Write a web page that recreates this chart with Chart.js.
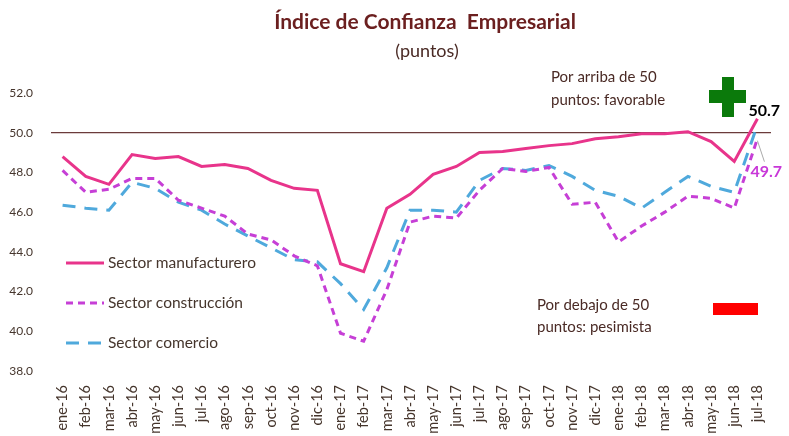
<!DOCTYPE html>
<html>
<head>
<meta charset="utf-8">
<script src="https://cdn.jsdelivr.net/npm/chart.js@4"></script>
<style>
  html, body { margin: 0; padding: 0; background: #fff; }
  canvas { display: block; }
</style>
</head>
<body>
<canvas id="icePlot" width="789" height="436"></canvas>
<script>
// meses
const meses = [
  "ene-16", "feb-16", "mar-16", "abr-16", "may-16", "jun-16", "jul-16", "ago-16",
  "sep-16", "oct-16", "nov-16", "dic-16", "ene-17", "feb-17", "mar-17", "abr-17",
  "may-17", "jun-17", "jul-17", "ago-17", "sep-17", "oct-17", "nov-17", "dic-17",
  "ene-18", "feb-18", "mar-18", "abr-18", "may-18", "jun-18", "jul-18"
];

// valores
const manufacturero = [
  48.8, 47.8, 47.4, 48.9, 48.7, 48.8, 48.3, 48.4, 48.2, 47.6, 47.2, 47.1,
  43.4, 43.0, 46.2, 46.9, 47.9, 48.3, 49.0, 49.05, 49.2, 49.35, 49.45, 49.7,
  49.8, 49.95, 49.95, 50.05, 49.55, 48.55, 50.7
];
const construccion = [
  48.1, 47.0, 47.15, 47.7, 47.7, 46.6, 46.2, 45.8, 44.9, 44.6, 43.8, 43.3,
  39.9, 39.5, 42.1, 45.5, 45.8, 45.7, 47.1, 48.2, 48.05, 48.25, 46.4, 46.5,
  44.5, 45.3, 46.0, 46.8, 46.7, 46.2, 49.7
];
const comercio = [
  46.35, 46.2, 46.1, 47.5, 47.2, 46.5, 46.1, 45.4, 44.8, 44.2, 43.6, 43.5,
  42.4, 41.1, 43.2, 46.1, 46.1, 46.0, 47.6, 48.2, 48.1, 48.35, 47.8, 47.1,
  46.8, 46.2, 47.0, 47.8, 47.3, 47.0, 50.4
];

const yTicks = [38, 40, 42, 44, 46, 48, 50, 52];
const umbral = 50;

const fuente = "Lato, 'Open Sans', sans-serif";
const colorTexto = "#45352c";

// titulo, linea de 50, leyenda y notas
const extras = {
  id: "extras",
  beforeDatasetsDraw(chart) {
    const { ctx, chartArea, scales } = chart;
    const y50 = scales.y.getPixelForValue(umbral);
    ctx.save();
    ctx.strokeStyle = "#6b3b3b";
    ctx.lineWidth = 1.2;
    ctx.beginPath();
    ctx.moveTo(chartArea.left, y50);
    ctx.lineTo(chartArea.right + 2, y50);
    ctx.stroke();
    ctx.restore();
  },
  afterDatasetsDraw(chart) {
    const { ctx, scales } = chart;
    ctx.save();

    // titulo
    ctx.textAlign = "center";
    ctx.textBaseline = "middle";
    ctx.fillStyle = "#6b1f1f";
    ctx.font = "bold 21px " + fuente;
    ctx.fillText("Índice de Confianza  Empresarial", 425, 22);
    ctx.fillStyle = "#4a2a25";
    ctx.font = "18px " + fuente;
    ctx.fillText("(puntos)", 427, 51);

    // leyenda
    const ds = chart.data.datasets;
    const filas = [263, 303, 343];
    ctx.textAlign = "left";
    ctx.font = "15.5px " + fuente;
    ds.forEach((d, i) => {
      ctx.strokeStyle = d.borderColor;
      ctx.lineWidth = 3;
      ctx.setLineDash(d.borderDash || []);
      ctx.beginPath();
      ctx.moveTo(66, filas[i]);
      ctx.lineTo(104, filas[i]);
      ctx.stroke();
      ctx.setLineDash([]);
      ctx.fillStyle = colorTexto;
      ctx.fillText(d.label, 108, filas[i]);
    });

    // notas
    ctx.font = "15px " + fuente;
    ctx.fillStyle = "#4a2a25";
    ctx.fillText("Por arriba de 50", 551, 77);
    ctx.fillText("puntos: favorable", 551, 100);
    ctx.fillText("Por debajo de 50", 537, 305);
    ctx.fillText("puntos: pesimista", 537, 327);

    ctx.fillStyle = "#0b7a0b";
    ctx.fillRect(722, 77, 12, 40);
    ctx.fillRect(709, 90, 37, 13);

    ctx.fillStyle = "#ff0000";
    ctx.fillRect(713, 303, 45, 12);

    // etiquetas del ultimo dato
    const n = meses.length - 1;
    const xs = scales.x.getPixelForValue(n);
    const yM = scales.y.getPixelForValue(manufacturero[n]);
    const yC = scales.y.getPixelForValue(construccion[n]);
    ctx.font = "bold 16px " + fuente;
    ctx.fillStyle = "#000";
    ctx.fillText(manufacturero[n].toFixed(1), xs - 9, yM - 8);

    ctx.strokeStyle = "#aaaaaa";
    ctx.lineWidth = 1;
    ctx.beginPath();
    ctx.moveTo(xs, yC + 2);
    ctx.lineTo(xs + 7, yC + 23);
    ctx.stroke();
    ctx.fillStyle = "#c837d8";
    ctx.fillText(construccion[n].toFixed(1), xs - 7, yC + 33);

    ctx.restore();
  }
};

new Chart(document.getElementById("icePlot"), {
  type: "line",
  data: {
    labels: meses,
    datasets: [
      {
        label: "Sector manufacturero",
        data: manufacturero,
        borderColor: "#e8348b",
        borderWidth: 3,
        pointRadius: 0,
        tension: 0,
        fill: false
      },
      {
        label: "Sector construcción",
        data: construccion,
        borderColor: "#c63fd6",
        borderWidth: 3,
        borderDash: [7, 5],
        pointRadius: 0,
        tension: 0,
        fill: false
      },
      {
        label: "Sector comercio",
        data: comercio,
        borderColor: "#4fa9dc",
        borderWidth: 3,
        borderDash: [13, 9],
        pointRadius: 0,
        tension: 0,
        fill: false
      }
    ]
  },
  options: {
    responsive: false,
    animation: false,
    layout: { padding: { top: 93, right: 20, left: 0, bottom: 0 } },
    plugins: {
      legend: { display: false },
      title: { display: false },
      tooltip: { enabled: false }
    },
    scales: {
      x: {
        offset: true,
        grid: { display: false },
        border: { display: false },
        ticks: {
          autoSkip: false,
          minRotation: 90,
          maxRotation: 90,
          padding: 6,
          color: colorTexto,
          font: { family: fuente, size: 14.5 }
        },
        afterFit(scale) { scale.height = 65; }
      },
      y: {
        min: 38,
        max: 52,
        grid: { display: false },
        border: { display: false },
        afterBuildTicks(scale) {
          scale.ticks = yTicks.map(v => ({ value: v }));
        },
        ticks: {
          padding: 10,
          color: colorTexto,
          font: { family: fuente, size: 12 },
          callback: v => Number(v).toFixed(1)
        },
        afterFit(scale) { scale.width = 51; }
      }
    }
  },
  plugins: [extras]
});
</script>
</body>
</html>
